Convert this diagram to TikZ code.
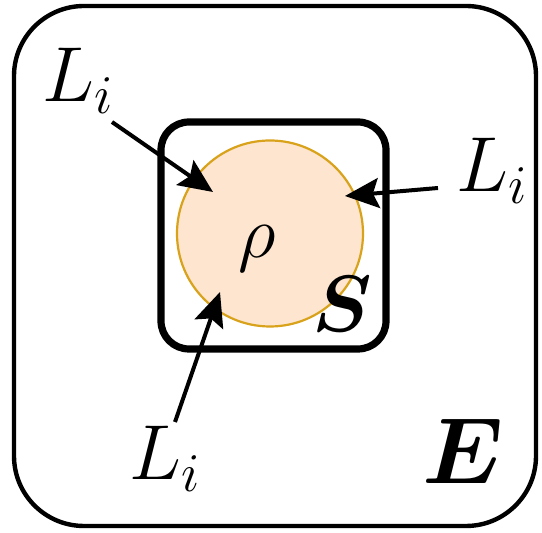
\RequirePackage{fix-cm}
\documentclass[tikz,border=0pt]{standalone}
\usepackage{amsmath,bm}
\usetikzlibrary{arrows.meta}
\definecolor{rhofill}{HTML}{FDE5CF}
\definecolor{rhoedge}{HTML}{D9A21B}

\begin{document}
\begin{tikzpicture}[x=0.5pt, y=-0.5pt,
  lbl/.style={inner sep=0pt, anchor=base west, font=\fontsize{39}{46}\selectfont},
  inflow/.style={line width=2pt, -{Stealth[length=17pt, width=15pt, inset=3pt]}}]
  \useasboundingbox (0,0) rectangle (542,533);

  % environment and system boxes
  \draw[line width=2.2pt, rounded corners=35pt] (14,6) rectangle (536,526);
  \draw[line width=3.6pt, rounded corners=14pt] (161,122) rectangle (386,349);
  \node (state) [circle, fill=rhofill, draw=rhoedge, line width=1.1pt, minimum size=93pt, inner sep=0pt] at (270,233.5) {};

  \node (rho) [inner sep=0pt, font=\fontsize{37}{44}\selectfont] at (257,249) {$\rho$};
  \node (sys) [inner sep=0pt, font=\fontsize{40}{46}\selectfont] at (342,304) {$\boldsymbol{S}$};
  \node (env) [inner sep=0pt, font=\fontsize{47}{54}\selectfont] at (463,451) {$\boldsymbol{E}$};

  % jump operators
  \node (li1) [lbl] at (42,102) {$L_i$};
  \node (li2) [lbl] at (456,192) {$L_i$};
  \node (li3) [lbl] at (129,480) {$L_i$};

  \coordinate (tail1) at (112,122);
  \coordinate (tip1) at (213,192);
  \coordinate (tail2) at (438,188);
  \coordinate (tip2) at (345,196);
  \coordinate (tail3) at (175,422);
  \coordinate (tip3) at (220,292);

  \draw[inflow] (tail1) -- (tip1);
  \draw[inflow] (tail2) -- (tip2);
  \draw[inflow] (tail3) -- (tip3);
\end{tikzpicture}
\end{document}
